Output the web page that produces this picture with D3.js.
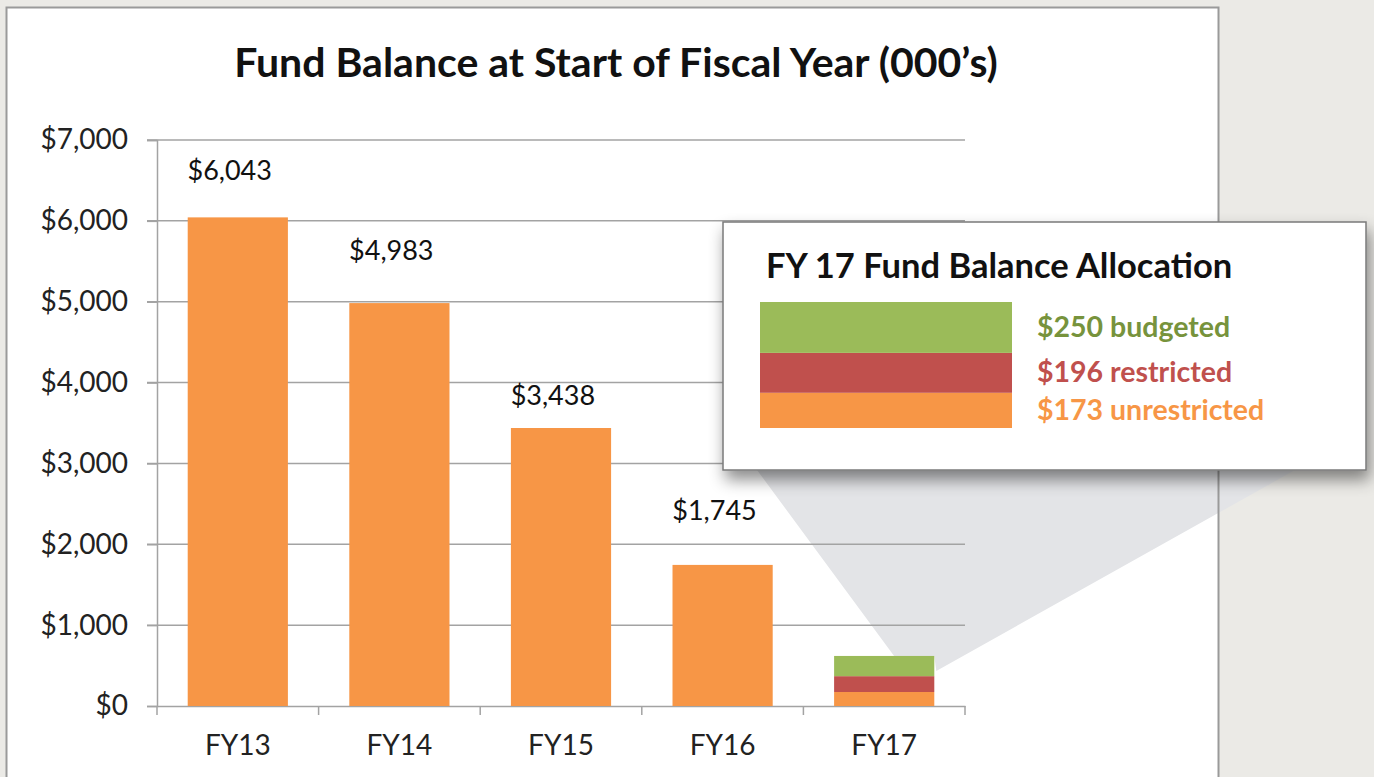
<!DOCTYPE html>
<html>
<head>
<meta charset="utf-8">
<script src="https://cdn.jsdelivr.net/npm/d3@7"></script>
<style>
  body { margin: 0; background: #ebeae6; }
  svg { display: block; }
  text { font-family: Lato, "Open Sans", sans-serif; }
</style>
</head>
<body>
<div class="chart_holder"></div>
<script>
const years = ["FY13", "FY14", "FY15", "FY16", "FY17"]
const balances = [6043, 4983, 3438, 1745, null]
const valueLabels = ["$6,043", "$4,983", "$3,438", "$1,745", ""]
const fy17Parts = ["unrestricted", "restricted", "budgeted"]
const fy17Values = [173, 196, 250]
const yTicks = [0, 1000, 2000, 3000, 4000, 5000, 6000, 7000]

function drawChart() {
    const width = 1374
    const height = 777

    const colors = { unrestricted: "#f79646", restricted: "#c0504d", budgeted: "#9bbb59" }
    const textColors = { unrestricted: "#f79646", restricted: "#c0504d", budgeted: "#77933c" }
    // hand placed label lifts, like the original
    const labelLift = [47, 53, 33, 55]

    const svg = d3.select(".chart_holder")
        .append("svg")
        .attr("width", width)
        .attr("height", height)

    const defs = svg.append("defs")
    const shadow = defs.append("filter").attr("id", "shadow")
        .attr("x", "-10%").attr("y", "-10%").attr("width", "130%").attr("height", "150%")
    shadow.append("feDropShadow")
        .attr("dx", 3).attr("dy", 9).attr("stdDeviation", 8)
        .attr("flood-color", "#000").attr("flood-opacity", 0.45)

    // white panel
    svg.append("rect")
        .attr("x", 6.5).attr("y", 7.5)
        .attr("width", 1212).attr("height", 820)
        .attr("fill", "white")

    const x = d3.scaleBand()
        .domain(years)
        .range([157, 965])
        .paddingInner(0.38)
        .paddingOuter(0.19)

    const y = d3.scaleLinear()
        .domain([0, 7000])
        .range([706, 140])

    // wedge from FY17 bar up to the callout
    const fy17Total = d3.sum(fy17Values)
    const box = { x: 723, y: 222, w: 643, h: 248 }
    const barTop = y(fy17Total)
    const barLeft = x("FY17")
    const barRight = barLeft + x.bandwidth()
    svg.append("path")
        .attr("d", d3.line()([
            [box.x + 34, box.y + box.h],
            [box.x + box.w - 71, box.y + box.h],
            [barRight + 2, barTop + 15],
            [barRight, barTop],
            [barLeft + 60, barTop]
        ]) + "Z")
        .attr("fill", "#e3e4e7")

    svg.append("rect")
        .attr("x", 6.5).attr("y", 7.5)
        .attr("width", 1212).attr("height", 820)
        .attr("fill", "none")
        .attr("stroke", "#9a9a9a")
        .attr("stroke-width", 2)

    // title
    svg.append("text")
        .attr("x", 616).attr("y", 77)
        .attr("text-anchor", "middle")
        .attr("font-size", 41)
        .attr("font-weight", "bold")
        .attr("fill", "#111")
        .text("Fund Balance at Start of Fiscal Year (000’s)")

    // gridlines
    svg.append("g")
        .selectAll("line")
        .data(yTicks.filter(d => d > 0))
        .join("line")
        .attr("x1", 147).attr("x2", 965)
        .attr("y1", d => y(d)).attr("y2", d => y(d))
        .attr("stroke", "#a3a3a3")
        .attr("stroke-width", 1.5)

    // y axis
    const yAxis = svg.append("g")
        .attr("transform", "translate(157,0)")
        .call(d3.axisLeft(y).tickValues(yTicks).tickSize(10).tickPadding(19)
            .tickFormat(d => "$" + d3.format(",")(d)))
    yAxis.select(".domain").attr("stroke", "#a3a3a3").attr("stroke-width", 1.5)
    yAxis.selectAll(".tick line").attr("stroke", "#a3a3a3").attr("stroke-width", 1.5)
    yAxis.selectAll("text")
        .attr("font-size", 28)
        .attr("fill", "#222")
        .attr("font-family", "Lato, sans-serif")

    // x axis
    const xAxis = svg.append("g")
        .attr("transform", "translate(0,706)")
        .call(d3.axisBottom(x).tickSize(0).tickPadding(29))
    xAxis.select(".domain").attr("stroke", "#a3a3a3").attr("stroke-width", 1.5)
    xAxis.selectAll("text")
        .attr("font-size", 28)
        .attr("fill", "#222")
        .attr("font-family", "Lato, sans-serif")

    const boundaries = d3.range(years.length + 1).map(i => x.range()[0] + i * x.step())
    svg.append("g")
        .selectAll("line")
        .data(boundaries)
        .join("line")
        .attr("x1", d => d).attr("x2", d => d)
        .attr("y1", 706).attr("y2", 715)
        .attr("stroke", "#a3a3a3")
        .attr("stroke-width", 1.5)

    // bars FY13..FY16
    const plain = years.map((d, i) => ({ year: d, value: balances[i], label: valueLabels[i], lift: labelLift[i] }))
        .filter(d => d.value != null)

    svg.append("g")
        .selectAll("rect")
        .data(plain)
        .join("rect")
        .attr("x", d => x(d.year))
        .attr("width", x.bandwidth())
        .attr("y", d => y(d.value))
        .attr("height", d => y(0) - y(d.value))
        .attr("fill", colors.unrestricted)

    svg.append("g")
        .selectAll("text")
        .data(plain)
        .join("text")
        .attr("x", d => x(d.year) + 42)
        .attr("y", d => y(d.value) - d.lift + 10)
        .attr("text-anchor", "middle")
        .attr("font-size", 27)
        .attr("fill", "#111")
        .text(d => d.label)

    // FY17 stacked
    const stackRow = {}
    fy17Parts.forEach((p, i) => stackRow[p] = fy17Values[i])
    const stacked = d3.stack().keys(fy17Parts)([stackRow])

    svg.append("g")
        .selectAll("rect")
        .data(stacked)
        .join("rect")
        .attr("x", barLeft)
        .attr("width", x.bandwidth())
        .attr("y", d => y(d[0][1]))
        .attr("height", d => y(d[0][0]) - y(d[0][1]))
        .attr("fill", d => colors[d.key])

    // callout box
    const callout = svg.append("g")
    callout.append("rect")
        .attr("x", box.x).attr("y", box.y)
        .attr("width", box.w).attr("height", box.h)
        .attr("fill", "white")
        .attr("stroke", "#7a7a7a")
        .attr("stroke-width", 1.5)
        .attr("filter", "url(#shadow)")

    callout.append("text")
        .attr("x", 766).attr("y", 278)
        .attr("font-size", 34.5)
        .attr("font-weight", "bold")
        .attr("fill", "#111")
        .text("FY 17 Fund Balance Allocation")

    const legendY = d3.scaleLinear()
        .domain([0, fy17Total])
        .range([428, 302])

    callout.append("g")
        .selectAll("rect")
        .data(stacked)
        .join("rect")
        .attr("x", 760)
        .attr("width", 252)
        .attr("y", d => legendY(d[0][1]))
        .attr("height", d => legendY(d[0][0]) - legendY(d[0][1]))
        .attr("fill", d => colors[d.key])

    const legendTextY = { budgeted: 337, restricted: 382, unrestricted: 420 }
    callout.append("g")
        .selectAll("text")
        .data(fy17Parts.map((p, i) => ({ key: p, value: fy17Values[i] })))
        .join("text")
        .attr("x", 1037)
        .attr("y", d => legendTextY[d.key])
        .attr("font-size", 28.5)
        .attr("font-weight", "bold")
        .attr("fill", d => textColors[d.key])
        .text(d => "$" + d.value + " " + d.key)
}

drawChart()
</script>
</body>
</html>
